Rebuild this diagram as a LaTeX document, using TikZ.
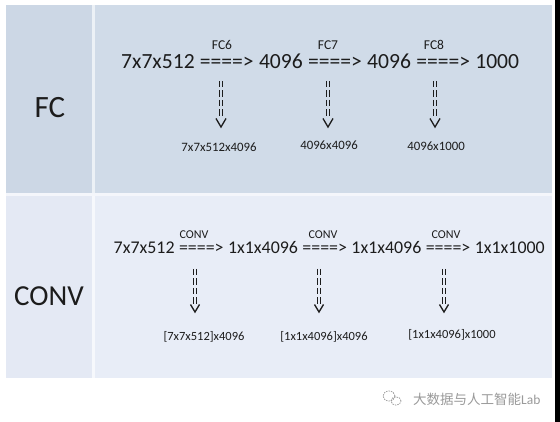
\documentclass[tikz,border=0pt]{standalone}
\usepackage{fontspec}
\setmainfont{Carlito}
\newfontfamily\cjkfont{Noto Sans CJK SC}
\definecolor{topbg}{HTML}{D0DBE8}
\definecolor{topleft}{HTML}{CCD7E5}
\definecolor{botbg}{HTML}{E8EDF7}
\definecolor{botleft}{HTML}{E4E9F4}
\definecolor{ink}{HTML}{1C1C1C}
\definecolor{wm}{HTML}{9A9A9A}
\tikzset{
  mainfc/.style={font=\fontsize{21.6}{24}\selectfont, text=ink, inner ysep=0pt, inner xsep=2.44pt, anchor=base west},
  mainconv/.style={font=\fontsize{17.9}{20}\selectfont, text=ink, inner ysep=0pt, inner xsep=2.02pt, anchor=base west},
  oplabel/.style={font=\fontsize{13.5}{15}\selectfont, text=ink, inner sep=0pt},
  convlabel/.style={font=\fontsize{12}{14}\selectfont, text=ink, inner sep=0pt},
  wlabel/.style={font=\fontsize{12.8}{15}\selectfont, text=ink, inner sep=0pt},
  rowtitle/.style={font=\fontsize{31}{34}\selectfont, text=ink, inner sep=0pt},
  dashpair/.style={draw=ink, line width=1.1pt, dash pattern=on 6.5pt off 3pt},
  vtip/.style={draw=ink, line width=1.3pt},
}
\begin{document}
\begin{tikzpicture}[x=1pt,y=-1pt]
\useasboundingbox (0,0) rectangle (560,422);
\fill[white] (0,0) rectangle (560,422);
\fill[black] (555,0) rectangle (560,422);
% panels
\fill[topleft] (6,5) rectangle (92,193);
\fill[topbg] (95,5) rectangle (552,193);
\fill[botleft] (6,196) rectangle (92,378);
\fill[botbg] (95,196) rectangle (552,378);
\fill[white!60!topbg] (92,5) rectangle (95,193);
\fill[white!60!botbg] (92,196) rectangle (95,378);
\fill[white!50!botbg] (6,193) rectangle (552,196);
% row titles
\node[rowtitle] (fc) at (50,108) {FC};
\node[rowtitle, font=\fontsize{29}{32}\selectfont] (conv) at (49,296) {CONV};
% FC row
\node[mainfc] (f0) at (118.6,69) {7x7x512};
\node[mainfc] (fa1) at (f0.base east) {====>};
\node[mainfc] (f1) at (fa1.base east) {4096};
\node[mainfc] (fa2) at (f1.base east) {====>};
\node[mainfc] (f2) at (fa2.base east) {4096};
\node[mainfc] (fa3) at (f2.base east) {====>};
\node[mainfc] (f3) at (fa3.base east) {1000};
\node[oplabel] (fc6) at (222,45) {FC6};
\node[oplabel] (fc7) at (328,45) {FC7};
\node[oplabel] (fc8) at (434,45) {FC8};
\node[wlabel] (w1) at (219,147) {7x7x512x4096};
\node[wlabel] (w2) at (329,145) {4096x4096};
\node[wlabel] (w3) at (436,146) {4096x1000};
\foreach \i/\x in {1/221,2/328,3/435}{
  \coordinate (fs\i) at (\x,81);
  \coordinate (ft\i) at (\x,127);
  \draw[dashpair] ([xshift=-1.7pt]fs\i) -- ([xshift=-1.7pt,yshift=9pt]ft\i);
  \draw[dashpair] ([xshift=1.7pt]fs\i) -- ([xshift=1.7pt,yshift=9pt]ft\i);
  \draw[vtip] ([xshift=-5pt,yshift=8.5pt]ft\i) -- (ft\i) -- ([xshift=5pt,yshift=8.5pt]ft\i);
}
% CONV row
\node[mainconv] (c0) at (111.5,254) {7x7x512};
\node[mainconv] (ca1) at (c0.base east) {====>};
\node[mainconv] (c1) at (ca1.base east) {1x1x4096};
\node[mainconv] (ca2) at (c1.base east) {====>};
\node[mainconv] (c2) at (ca2.base east) {1x1x4096};
\node[mainconv] (ca3) at (c2.base east) {====>};
\node[mainconv] (c3) at (ca3.base east) {1x1x1000};
\node[convlabel] (cv1) at (194,235) {CONV};
\node[convlabel] (cv2) at (323,235) {CONV};
\node[convlabel] (cv3) at (446,235) {CONV};
\node[wlabel, font=\fontsize{12.5}{14}\selectfont] (m1) at (204,337) {[7x7x512]x4096};
\node[wlabel, font=\fontsize{12.5}{14}\selectfont] (m2) at (324,337) {[1x1x4096]x4096};
\node[wlabel, font=\fontsize{12.5}{14}\selectfont] (m3) at (452,335) {[1x1x4096]x1000};
\foreach \i/\x in {1/195,2/319,3/444}{
  \coordinate (cs\i) at (\x,269);
  \coordinate (ct\i) at (\x,312);
  \draw[dashpair] ([xshift=-1.6pt]cs\i) -- ([xshift=-1.6pt,yshift=8pt]ct\i);
  \draw[dashpair] ([xshift=1.6pt]cs\i) -- ([xshift=1.6pt,yshift=8pt]ct\i);
  \draw[vtip] ([xshift=-4.5pt,yshift=7.5pt]ct\i) -- (ct\i) -- ([xshift=4.5pt,yshift=7.5pt]ct\i);
}
% watermark
\draw[wm, line width=0.7pt, dash pattern=on 1.5pt off 1pt] (389,396) ellipse (6pt and 5pt);
\draw[wm, line width=0.7pt, dash pattern=on 1.5pt off 1pt] (396,401) ellipse (5pt and 4.2pt);
\node[inner sep=0pt, text=wm, anchor=west, font=\fontsize{13.5}{15}\selectfont] (wmt) at (413,399) {{\cjkfont 大数据与人工智能}Lab};
\end{tikzpicture}
\end{document}
